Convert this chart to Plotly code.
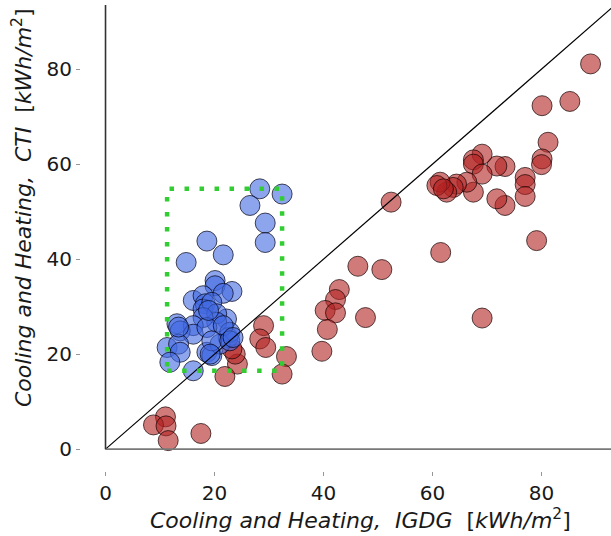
import plotly.graph_objects as go

# Red series (IGDG, CTI)
red_x = [89.0, 85.2, 80.1, 81.2, 80.1, 80.0, 77.0, 77.0, 77.0, 73.3, 71.8, 73.3, 71.8,
         69.1, 67.5, 67.5, 69.1, 67.5, 66.3, 64.4, 63.8, 62.6, 61.4, 60.8, 62.0,
         79.1, 61.5, 69.1, 52.4, 46.3, 50.7, 42.9, 42.2, 40.3, 42.2, 47.7, 40.7, 39.7,
         29.0, 28.3, 29.4, 33.2, 32.4, 24.2, 23.8, 21.9, 23.2,
         11.0, 8.8, 11.1, 11.5, 17.5]
red_y = [81.1, 73.2, 72.3, 64.6, 61.1, 59.9, 57.2, 55.7, 53.2, 59.5, 59.6, 51.3, 52.7,
         62.1, 60.9, 60.0, 57.9, 54.1, 56.2, 55.8, 55.1, 54.1, 56.2, 55.5, 54.8,
         43.9, 41.4, 27.6, 52.0, 38.5, 37.8, 33.6, 31.5, 29.2, 28.7, 27.7, 25.2, 20.6,
         26.0, 23.2, 21.4, 19.5, 15.8, 17.9, 20.0, 15.3, 21.1,
         6.8, 5.1, 4.9, 1.8, 3.3]

# Blue series
blue_x = [28.3, 32.4, 26.5, 29.3, 29.3, 18.6, 21.6, 14.8, 20.1, 20.1, 23.2, 21.6, 16.1,
          17.9, 18.3, 17.9, 19.5, 22.2, 20.4, 20.4, 17.9, 13.1, 16.1, 13.7, 16.1, 18.6,
          22.5, 22.8, 21.6, 11.3, 13.4, 13.7, 11.8, 16.1, 18.6, 19.5, 21.0, 19.5, 18.9,
          13.4, 22.8, 19.2, 23.4]
blue_y = [54.8, 53.7, 51.3, 47.6, 43.5, 43.8, 40.9, 39.3, 35.5, 34.4, 33.2, 32.8, 31.3,
          32.3, 30.6, 29.5, 30.9, 27.4, 28.5, 26.7, 27.7, 26.4, 26.0, 24.9, 24.2, 25.6,
          23.5, 24.6, 26.0, 21.4, 22.1, 20.4, 18.3, 16.5, 20.4, 19.7, 22.1, 22.8, 29.2,
          25.7, 22.8, 20.0, 23.5]

x_ticks = [0, 20, 40, 60, 80]
y_ticks = [0, 20, 40, 60, 80]

FONT = "DejaVu Sans"
TXT = "rgb(25,25,25)"

fig = go.Figure()
fig.add_trace(go.Scatter(
    x=red_x, y=red_y, mode="markers",
    marker=dict(size=20, color="rgba(178,34,34,0.6)",
                line=dict(color="rgba(20,0,0,0.7)", width=1)),
    showlegend=False, cliponaxis=False))
fig.add_trace(go.Scatter(
    x=blue_x, y=blue_y, mode="markers",
    marker=dict(size=20, color="rgba(65,105,225,0.6)",
                line=dict(color="rgba(0,0,20,0.7)", width=1)),
    showlegend=False, cliponaxis=False))
# 1:1 diagonal
fig.add_trace(go.Scatter(x=[0, 100], y=[0, 100], mode="lines",
                         line=dict(color="black", width=1.2), showlegend=False,
                         hoverinfo="skip"))

# green dotted bounding box around blue points
fig.add_shape(type="rect", xref="x", yref="y",
              x0=min(blue_x), x1=max(blue_x), y0=min(blue_y), y1=max(blue_y),
              line=dict(color="rgb(50,205,50)", width=4.5, dash="4.5px,10.5px"),
              layer="above")
# axis spines
fig.add_shape(type="line", xref="x", yref="y", x0=0, x1=100, y0=0, y1=0,
              line=dict(color="rgb(120,120,120)", width=1.6), layer="above")
fig.add_shape(type="line", xref="x", yref="y", x0=0, x1=0, y0=0, y1=93.5,
              line=dict(color="rgb(50,50,50)", width=1.6), layer="above")

fig.update_xaxes(range=[-4.5, 92.75], tickvals=x_ticks, showgrid=False, zeroline=False,
                 showline=False, ticks="outside", ticklen=4, tickcolor="rgb(150,150,150)",
                 automargin=False,
                 tickfont=dict(family=FONT, size=20, color=TXT))
fig.update_yaxes(range=[-4.6, 93.5], tickvals=y_ticks, showgrid=False, zeroline=False,
                 showline=False, ticks="outside", ticklen=4, tickcolor="rgb(150,150,150)",
                 automargin=False,
                 tickfont=dict(family=FONT, size=20, color=TXT))

fig.add_annotation(xref="paper", yref="paper", x=(360 - 81) / 530, y=(471 - 519) / 466,
                   text="<i>Cooling and Heating,  IGDG</i>  [<i>kWh/m</i><sup>2</sup>]",
                   showarrow=False, font=dict(family=FONT, size=22, color=TXT),
                   xanchor="center", yanchor="middle")
fig.add_annotation(xref="paper", yref="paper", x=(22 - 81) / 530, y=(471 - 208) / 466,
                   text="<i>Cooling and Heating,  CTI</i>  [<i>kWh/m</i><sup>2</sup>]",
                   textangle=-90, showarrow=False,
                   font=dict(family=FONT, size=22, color=TXT),
                   xanchor="center", yanchor="middle")

fig.update_layout(template="none", width=611, height=536,
                  margin=dict(l=81, r=0, t=5, b=65),
                  plot_bgcolor="white", paper_bgcolor="white",
                  font=dict(family=FONT))
fig.write_html("out.html", config={"displayModeBar": False},
               post_script="document.body.style.margin='0';document.body.style.overflow='hidden';")
